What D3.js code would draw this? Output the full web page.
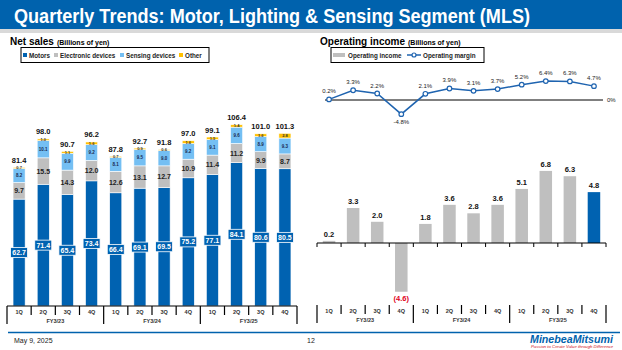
<!DOCTYPE html>
<html>
<head>
<meta charset="utf-8">
<script src="https://cdn.jsdelivr.net/npm/d3@7"></script>
<style>
  body { margin: 0; background: #fff; }
  svg { display: block; font-family: "Liberation Sans", Arial, sans-serif; }
</style>
</head>
<body>
<svg id="chart" width="622" height="350"></svg>
<script>
// ---- data ----
const quarters = ['1Q', '2Q', '3Q', '4Q', '1Q', '2Q', '3Q', '4Q', '1Q', '2Q', '3Q', '4Q'];
const fiscalYears = ['FY3/23', 'FY3/24', 'FY3/25'];
const motors = [62.7, 71.4, 65.4, 73.4, 66.4, 69.1, 69.5, 75.2, 77.1, 84.1, 80.6, 80.5];
const electronic = [9.7, 15.5, 14.3, 12.0, 12.6, 13.1, 12.7, 10.9, 11.4, 11.2, 9.9, 8.7];
const sensing = [8.2, 10.1, 9.9, 9.2, 8.1, 9.5, 9.0, 9.2, 9.1, 9.6, 8.9, 9.3];
const other = [0.7, 1.0, 1.1, 1.6, 0.7, 0.9, 0.6, 1.6, 1.5, 1.4, 1.6, 2.8];
const netSales = [81.4, 98.0, 90.7, 96.2, 87.8, 92.7, 91.8, 97.0, 99.1, 106.4, 101.0, 101.3];
const opIncome = [0.2, 3.3, 2.0, -4.6, 1.8, 3.6, 2.8, 3.6, 5.1, 6.8, 6.3, 4.8];
const opMargin = [0.2, 3.3, 2.2, -4.8, 2.1, 3.9, 3.1, 3.7, 5.2, 6.4, 6.3, 4.7];

const segKeys = ['motors', 'electronic', 'sensing', 'other'];
const segNames = ['Motors', 'Electronic devices', 'Sensing devices', 'Other'];
const segColors = ['#0062b1', '#bfbfbf', '#74bff3', '#ffc000'];
const blue = '#0062b1';

const svg = d3.select('#chart');

// ---- header ----
svg.append('rect').attr('x', 0).attr('y', 0).attr('width', 622).attr('height', 29).attr('fill', '#0062ad');
svg.append('rect').attr('x', 0).attr('y', 29).attr('width', 622).attr('height', 4).attr('fill', '#d9d9d9');
svg.append('text')
    .attr('x', 14).attr('y', 23)
    .attr('font-size', 20).attr('font-weight', 'bold').attr('fill', '#fff')
    .attr('textLength', 516).attr('lengthAdjust', 'spacingAndGlyphs')
    .text('Quarterly Trends: Motor, Lighting & Sensing Segment (MLS)');

function panelTitle(x, main, sub) {
    const t = svg.append('text').attr('x', x).attr('y', 45).attr('fill', '#000').attr('font-weight', 'bold');
    t.append('tspan').attr('font-size', 10).text(main);
    t.append('tspan').attr('font-size', 7).attr('dx', 3).text(sub);
}
panelTitle(10, 'Net sales', '(Billions of yen)');
panelTitle(320, 'Operating income', '(Billions of yen)');

// ---- legends ----
svg.append('rect').attr('x', 21).attr('y', 47.5).attr('width', 188).attr('height', 15)
    .attr('fill', 'none').attr('stroke', '#000').attr('stroke-width', 1);
const legX = [23, 54, 120, 179];
segNames.forEach((n, i) => {
    svg.append('rect').attr('x', legX[i]).attr('y', 53).attr('width', 4).attr('height', 4).attr('fill', segColors[i]);
    svg.append('text').attr('x', legX[i] + 6).attr('y', 57.5)
        .attr('font-size', 6.3).attr('font-weight', 'bold').attr('fill', '#222').text(n);
});

svg.append('rect').attr('x', 331).attr('y', 47.5).attr('width', 153).attr('height', 15)
    .attr('fill', 'none').attr('stroke', '#000').attr('stroke-width', 1);
svg.append('rect').attr('x', 333).attr('y', 53).attr('width', 12).attr('height', 4).attr('fill', '#bfbfbf');
svg.append('text').attr('x', 348).attr('y', 57.5).attr('font-size', 6.3).attr('font-weight', 'bold').attr('fill', '#222').text('Operating income');
svg.append('line').attr('x1', 407).attr('x2', 421).attr('y1', 55).attr('y2', 55).attr('stroke', '#1f64b0').attr('stroke-width', 1.5);
svg.append('circle').attr('cx', 414).attr('cy', 55).attr('r', 2).attr('fill', '#fff').attr('stroke', '#1f64b0').attr('stroke-width', 1.2);
svg.append('text').attr('x', 423).attr('y', 57.5).attr('font-size', 6.3).attr('font-weight', 'bold').attr('fill', '#222').text('Operating margin');

// ---- category axis helper ----
function categoryAxis(x, top, line) {
    const bw = x.bandwidth();
    if (line) {
        svg.append('line').attr('x1', x.range()[0]).attr('x2', x.range()[1])
            .attr('y1', top).attr('y2', top).attr('stroke', '#000').attr('stroke-width', 1.2);
    }
    for (let i = 0; i <= quarters.length; i++) {
        const xx = i < quarters.length ? x(i) : x(i - 1) + bw;
        const long = i % 4 === 0;
        svg.append('line').attr('x1', xx).attr('x2', xx)
            .attr('y1', top).attr('y2', top + (long ? 18 : 9))
            .attr('stroke', '#000').attr('stroke-width', 1.2);
    }
    quarters.forEach((q, i) => {
        svg.append('text').attr('x', x(i) + bw / 2).attr('y', top + 8)
            .attr('text-anchor', 'middle').attr('font-size', 5.5).attr('font-weight', 'bold').attr('fill', '#333').text(q);
    });
    fiscalYears.forEach((fy, k) => {
        svg.append('text').attr('x', x(k * 4) + bw * 2).attr('y', top + 17)
            .attr('text-anchor', 'middle').attr('font-size', 5.5).attr('font-weight', 'bold').attr('fill', '#333').text(fy);
    });
}

// ---- net sales stacked bars ----
const rows = quarters.map((q, i) => ({
    i: i, motors: motors[i], electronic: electronic[i], sensing: sensing[i], other: other[i]
}));
const xL = d3.scaleBand().domain(d3.range(quarters.length)).range([7, 297]);
const yL = d3.scaleLinear().domain([0, 110]).range([306, 306 - 110 * 1.705]);
const barWL = xL.bandwidth() * 0.5;
const stack = d3.stack().keys(segKeys)(rows);

const left = svg.append('g');
stack.forEach((s, k) => {
    left.selectAll(null).data(s).join('rect')
        .attr('x', d => xL(d.data.i) + (xL.bandwidth() - barWL) / 2)
        .attr('y', d => yL(d[1]))
        .attr('width', barWL)
        .attr('height', d => yL(d[0]) - yL(d[1]))
        .attr('fill', segColors[k])
        .attr('stroke', '#fff').attr('stroke-width', 0.6);
});
const cxL = i => xL(i) + xL.bandwidth() / 2;
// motors labels (boxed)
stack[0].forEach((d, i) => {
    const cy = yL((d[0] + d[1]) / 2);
    left.append('rect').attr('x', cxL(i) - 8.5).attr('y', cy - 5).attr('width', 17).attr('height', 10)
        .attr('fill', blue).attr('stroke', '#fff').attr('stroke-width', 0.8);
    left.append('text').attr('x', cxL(i)).attr('y', cy + 2.5).attr('text-anchor', 'middle')
        .attr('font-size', 7).attr('font-weight', 'bold').attr('fill', '#fff').text(motors[i].toFixed(1));
});
stack[1].forEach((d, i) => {
    left.append('text').attr('x', cxL(i)).attr('y', yL((d[0] + d[1]) / 2) + 2.5).attr('text-anchor', 'middle')
        .attr('font-size', 7).attr('font-weight', 'bold').attr('fill', '#222').text(electronic[i].toFixed(1));
});
stack[2].forEach((d, i) => {
    left.append('text').attr('x', cxL(i)).attr('y', yL((d[0] + d[1]) / 2) + 1.6).attr('text-anchor', 'middle')
        .attr('font-size', 4.5).attr('font-weight', 'bold').attr('fill', '#1a2a50').text(sensing[i].toFixed(1));
});
stack[3].forEach((d, i) => {
    left.append('text').attr('x', cxL(i)).attr('y', yL((d[0] + d[1]) / 2) + 1.4).attr('text-anchor', 'middle')
        .attr('font-size', 4).attr('font-weight', 'bold').attr('fill', '#333').text(other[i].toFixed(1));
});
stack[3].forEach((d, i) => {
    left.append('text').attr('x', cxL(i)).attr('y', yL(d[1]) - 4.5).attr('text-anchor', 'middle')
        .attr('font-size', 7.5).attr('font-weight', 'bold').attr('fill', '#111').text(netSales[i].toFixed(1));
});
categoryAxis(xL, 306, true);

// ---- operating income bars ----
const xR = d3.scaleBand().domain(d3.range(quarters.length)).range([317, 606]);
const yR = d3.scaleLinear().domain([-5, 7]).range([243 + 5 * 10.6, 243 - 7 * 10.6]);
const barWR = xR.bandwidth() * 0.52;
const cxR = i => xR(i) + xR.bandwidth() / 2;

const right = svg.append('g');
right.selectAll(null).data(opIncome).join('rect')
    .attr('x', (d, i) => cxR(i) - barWR / 2)
    .attr('y', d => yR(Math.max(0, d)))
    .attr('width', barWR)
    .attr('height', d => Math.abs(yR(d) - yR(0)))
    .attr('fill', (d, i) => i === opIncome.length - 1 ? blue : '#bfbfbf');
right.selectAll(null).data(opIncome).join('text')
    .attr('x', (d, i) => cxR(i))
    .attr('y', d => d >= 0 ? yR(d) - 4 : yR(d) + 9)
    .attr('text-anchor', 'middle').attr('font-size', 7.5).attr('font-weight', 'bold')
    .attr('fill', d => d >= 0 ? '#111' : '#e0001a')
    .text(d => d >= 0 ? d.toFixed(1) : `(${Math.abs(d).toFixed(1)})`);
right.append('line').attr('x1', 317).attr('x2', 606).attr('y1', yR(0)).attr('y2', yR(0))
    .attr('stroke', '#000').attr('stroke-width', 1.2);
for (let i = 0; i <= quarters.length; i++) {
    const xx = i < quarters.length ? xR(i) : xR(i - 1) + xR.bandwidth();
    right.append('line').attr('x1', xx).attr('x2', xx).attr('y1', yR(0)).attr('y2', yR(0) + 4)
        .attr('stroke', '#000').attr('stroke-width', 1);
}
categoryAxis(xR, 305, false);

// ---- operating margin line ----
const yM = d3.scaleLinear().domain([-5, 7]).range([100 + 5 * 2.95, 100 - 7 * 2.95]);
right.append('line').attr('x1', 325).attr('x2', 603).attr('y1', yM(0)).attr('y2', yM(0))
    .attr('stroke', '#000').attr('stroke-width', 1);
right.append('text').attr('x', 607).attr('y', yM(0) + 2).attr('font-size', 6).attr('fill', '#222').text('0%');
const line = d3.line().x((d, i) => cxR(i)).y(d => yM(d));
right.append('path').datum(opMargin).attr('d', line)
    .attr('fill', 'none').attr('stroke', '#1f64b0').attr('stroke-width', 1.5);
right.selectAll(null).data(opMargin).join('circle')
    .attr('cx', (d, i) => cxR(i)).attr('cy', d => yM(d)).attr('r', 2.3)
    .attr('fill', '#fff').attr('stroke', '#1f64b0').attr('stroke-width', 1.2);
right.selectAll(null).data(opMargin).join('text')
    .attr('x', (d, i) => cxR(i))
    .attr('y', d => d >= 0 ? yM(d) - 6 : yM(d) + 10)
    .attr('text-anchor', 'middle').attr('font-size', 6).attr('fill', '#222')
    .text(d => d.toFixed(1) + '%');

// ---- footer ----
svg.append('line').attr('x1', 8).attr('x2', 620).attr('y1', 332.5).attr('y2', 332.5)
    .attr('stroke', '#0062ad').attr('stroke-width', 1.5);
svg.append('text').attr('x', 14).attr('y', 343).attr('font-size', 7).attr('fill', '#222').text('May 9, 2025');
svg.append('text').attr('x', 311).attr('y', 343).attr('text-anchor', 'middle').attr('font-size', 7).attr('fill', '#222').text('12');
svg.append('text').attr('x', 530).attr('y', 342.5).attr('font-size', 11.5).attr('font-weight', 'bold')
    .attr('font-style', 'italic').attr('fill', '#0062ad')
    .attr('textLength', 83).attr('lengthAdjust', 'spacingAndGlyphs').text('MinebeaMitsumi');
svg.append('text').attr('x', 531).attr('y', 348).attr('font-size', 3.6).attr('font-style', 'italic').attr('fill', '#d0101a')
    .attr('textLength', 82).attr('lengthAdjust', 'spacingAndGlyphs').text('Passion to Create Value through Difference');
</script>
</body>
</html>
